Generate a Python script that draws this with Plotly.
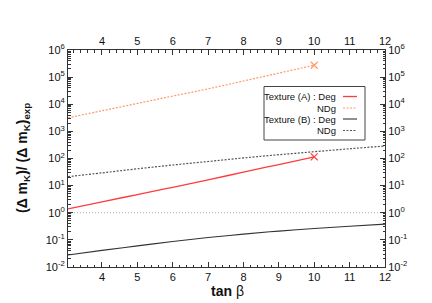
import plotly.graph_objects as go

# ---- data ----
tanb = [3.04, 4, 5, 6, 7, 8, 9, 10]
tanb_full = [3.04, 4, 5, 6, 7, 8, 9, 10, 11, 12]
texA_deg = [1.38, 2.5, 4.7, 8.7, 16.2, 31.6, 60, 115]
texA_ndg = [3160, 5750, 10700, 20000, 37000, 72000, 141000, 275000]
texB_deg = [0.0275, 0.041, 0.060, 0.087, 0.122, 0.163, 0.211, 0.262, 0.316, 0.38]
texB_ndg = [21.4, 29.5, 41.7, 57.5, 77.6, 105, 138, 178, 229, 288]
ref_x = [3.04, 12]
ref_y = [1, 1]

x_ticks = [4, 5, 6, 7, 8, 9, 10, 11, 12]
y_exps = [-2, -1, 0, 1, 2, 3, 4, 5, 6]

FONT = "Liberation Sans, Arial, Helvetica, sans-serif"
RED = "#ff3b3b"
ORANGE = "#ff9966"
DARK = "#333333"
GREY_D = "#555555"

fig = go.Figure()
fig.add_trace(go.Scatter(x=tanb, y=texA_deg, mode="lines", line_shape="spline",
                         line=dict(color=RED, width=1.3), showlegend=False))
fig.add_trace(go.Scatter(x=tanb, y=texA_ndg, mode="lines", line_shape="spline",
                         line=dict(color=ORANGE, width=1.2, dash="2px,1.5px"), showlegend=False))
fig.add_trace(go.Scatter(x=tanb_full, y=texB_deg, mode="lines", line_shape="spline",
                         line=dict(color=DARK, width=1.1), showlegend=False))
fig.add_trace(go.Scatter(x=tanb_full, y=texB_ndg, mode="lines", line_shape="spline",
                         line=dict(color=GREY_D, width=1.2, dash="2px,1.5px"), showlegend=False))
fig.add_trace(go.Scatter(x=[tanb[-1]], y=[texA_deg[-1]], mode="markers",
                         marker=dict(symbol="x-thin", size=7, line=dict(color=RED, width=1.2)),
                         showlegend=False))
fig.add_trace(go.Scatter(x=[tanb[-1]], y=[texA_ndg[-1]], mode="markers",
                         marker=dict(symbol="x-thin", size=7, line=dict(color=ORANGE, width=1.2)),
                         showlegend=False))
fig.add_trace(go.Scatter(x=ref_x, y=ref_y, mode="lines", xaxis="x2", yaxis="y2",
                         line=dict(color="#aaaaaa", width=1, dash="1px,2px"), showlegend=False))

minor_y = [m * 10 ** e for e in range(-2, 6) for m in range(2, 10)]
ytext = ["10<sup>%d</sup>" % e for e in y_exps]
yvals = [10 ** e for e in y_exps]

common_x = dict(range=[3.04, 12], tickvals=x_ticks, ticks="inside", ticklen=5,
                tickcolor=DARK, showline=True, linecolor=DARK, linewidth=1,
                showgrid=False, zeroline=False,
                minor=dict(ticks="inside", ticklen=2.5, dtick=0.2, tickcolor=DARK, showgrid=False),
                tickfont=dict(family=FONT, size=11, color="#111"))
common_y = dict(type="log", range=[-2, 6], tickvals=yvals, ticktext=ytext,
                ticks="inside", ticklen=5, tickcolor=DARK, showline=True,
                linecolor=DARK, linewidth=1, showgrid=False, zeroline=False,
                minor=dict(ticks="inside", ticklen=2.5, tickvals=minor_y, tickcolor=DARK, showgrid=False),
                tickfont=dict(family=FONT, size=11, color="#111"))

fig.update_layout(
    width=432, height=303,
    margin=dict(l=60, r=55, t=42, b=44),
    paper_bgcolor="white", plot_bgcolor="white",
    font=dict(family=FONT, color="#111"),
    xaxis=dict(**common_x, side="bottom"),
    yaxis=dict(**common_y, side="left"),
    xaxis2=dict(**common_x, side="top", overlaying="x", anchor="y"),
    yaxis2=dict(**common_y, side="right", overlaying="y", anchor="x"),
    showlegend=False,
)

def px(x):
    return (x - 60) / 317.0

def py(y):
    return 1 - (y - 42) / 217.0

ann = [
    dict(x=px(219), y=py(283), xref="paper", yref="paper", showarrow=False,
         text="<b>tan</b> β", font=dict(size=14, family=FONT, color="#111"),
         xanchor="center", yanchor="middle"),
    dict(x=px(15), y=py(150), xref="paper", yref="paper", showarrow=False,
         text="<b>(Δ m<sub>K</sub>)/ (Δ m<sub>K</sub>)<sub>exp</sub></b>", textangle=-90,
         font=dict(size=14, family=FONT, color="#111"),
         xanchor="center", yanchor="middle"),
]
legend_rows = [
    ("Texture (A) : Deg", 88.5, dict(color=RED, width=1.3)),
    ("NDg", 100, dict(color=ORANGE, width=1.2, dash="2px,1.5px")),
    ("Texture (B) : Deg", 111, dict(color=DARK, width=1.1)),
    ("NDg", 122.5, dict(color=GREY_D, width=1.2, dash="2px,1.5px")),
]
bx0, bx1, by0, by1 = px(256), px(357), py(132), py(78.5)
box_line = dict(color="#444444", width=1)
shapes = [
    dict(type="line", xref="paper", yref="paper", x0=bx0, x1=bx1, y0=by0, y1=by0, line=box_line),
    dict(type="line", xref="paper", yref="paper", x0=bx0, x1=bx1, y0=by1, y1=by1, line=box_line),
    dict(type="line", xref="paper", yref="paper", x0=bx0, x1=bx0, y0=by0, y1=by1, line=box_line),
    dict(type="line", xref="paper", yref="paper", x0=bx1, x1=bx1, y0=by0, y1=by1, line=box_line),
]
for txt, yy, ln in legend_rows:
    ann.append(dict(x=px(330), y=py(yy), xref="paper", yref="paper", showarrow=False,
                    text=txt, xanchor="right", yanchor="middle",
                    font=dict(size=9.5, family=FONT, color="#111")))
    shapes.append(dict(type="line", xref="paper", yref="paper", x0=px(335), x1=px(349),
                       y0=py(yy), y1=py(yy), line=ln))

fig.update_layout(annotations=ann, shapes=shapes)
fig.write_html("out.html")
